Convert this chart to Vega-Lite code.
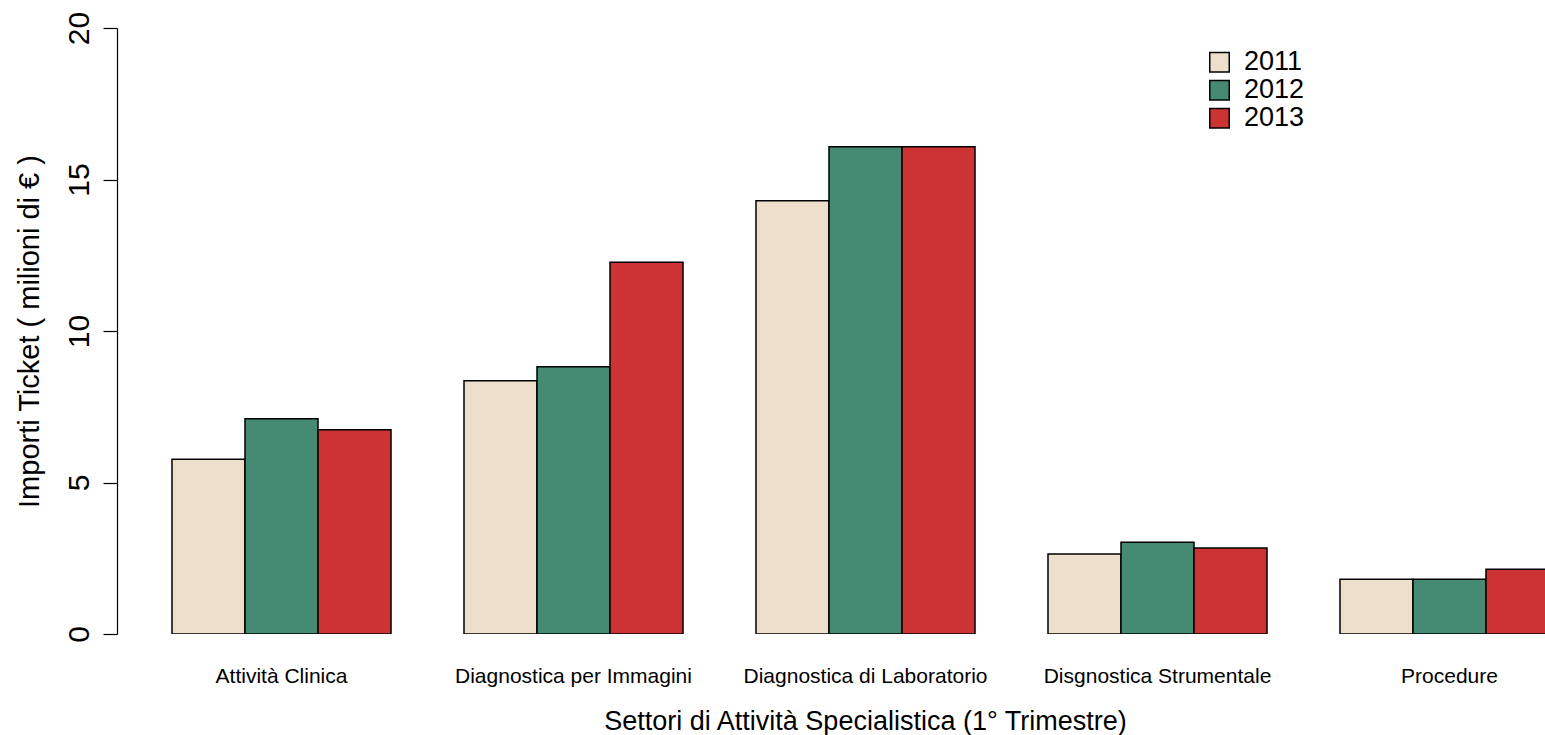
{
  "$schema": "https://vega.github.io/schema/vega-lite/v6.json",
  "width": 1428,
  "height": 606,
  "autosize": "none",
  "padding": {"left": 117, "top": 28, "right": 0, "bottom": 101},
  "background": "white",
  "config": {
    "view": {"stroke": null},
    "font": "Liberation Sans"
  },
  "data": {
    "values": [
      {"settore": "Attività Clinica", "anno": "2011", "importo": 5.77},
      {"settore": "Attività Clinica", "anno": "2012", "importo": 7.10},
      {"settore": "Attività Clinica", "anno": "2013", "importo": 6.74},
      {"settore": "Diagnostica per Immagini", "anno": "2011", "importo": 8.36},
      {"settore": "Diagnostica per Immagini", "anno": "2012", "importo": 8.82},
      {"settore": "Diagnostica per Immagini", "anno": "2013", "importo": 12.27},
      {"settore": "Diagnostica di Laboratorio", "anno": "2011", "importo": 14.30},
      {"settore": "Diagnostica di Laboratorio", "anno": "2012", "importo": 16.08},
      {"settore": "Diagnostica di Laboratorio", "anno": "2013", "importo": 16.08},
      {"settore": "Disgnostica Strumentale", "anno": "2011", "importo": 2.64},
      {"settore": "Disgnostica Strumentale", "anno": "2012", "importo": 3.03},
      {"settore": "Disgnostica Strumentale", "anno": "2013", "importo": 2.84},
      {"settore": "Procedure", "anno": "2011", "importo": 1.81},
      {"settore": "Procedure", "anno": "2012", "importo": 1.81},
      {"settore": "Procedure", "anno": "2013", "importo": 2.14}
    ]
  },
  "mark": {"type": "bar", "stroke": "black", "strokeWidth": 1.5, "clip": true, "cornerRadius": 0},
  "encoding": {
    "x": {
      "field": "settore",
      "type": "nominal",
      "sort": null,
      "scale": {"range": [0, 1497], "paddingInner": 0.25, "paddingOuter": 0.18836},
      "axis": {
        "title": "Settori di Attività Specialistica (1° Trimestre)",
        "domain": false,
        "ticks": false,
        "tickSize": 0,
        "labelAngle": 0,
        "labelFontSize": 21,
        "labelLimit": 0,
        "labelColor": "black",
        "labelBaseline": "alphabetic",
        "labelAlign": "center",
        "labelPadding": 48,
        "labelOverlap": false,
        "titleFontSize": 27,
        "titleFontWeight": "normal",
        "titleColor": "black",
        "titleX": 748,
        "titleY": 95,
        "titleAlign": "center",
        "titleBaseline": "alphabetic"
      }
    },
    "xOffset": {
      "field": "anno",
      "type": "nominal",
      "scale": {"paddingInner": 0, "paddingOuter": 0}
    },
    "y": {
      "field": "importo",
      "type": "quantitative",
      "scale": {"domain": [0, 20], "nice": false, "zero": true},
      "axis": {
        "title": "Importi Ticket ( milioni di € )",
        "values": [0, 5, 10, 15, 20],
        "grid": false,
        "domainColor": "black",
        "domainWidth": 1.2,
        "tickColor": "black",
        "tickWidth": 1.2,
        "tickSize": 14,
        "labelAngle": -90,
        "labelAlign": "center",
        "labelBaseline": "alphabetic",
        "labelPadding": 15,
        "labelFontSize": 30,
        "labelColor": "black",
        "titleFontSize": 29,
        "titleFontWeight": "normal",
        "titleColor": "black",
        "titleAngle": -90,
        "titleX": -88,
        "titleY": 303,
        "titleAlign": "center",
        "titleBaseline": "middle"
      }
    },
    "fill": {
      "field": "anno",
      "type": "nominal",
      "scale": {"domain": ["2011", "2012", "2013"], "range": ["#EEDFCC", "#458B74", "#CD3333"]},
      "legend": {
        "title": null,
        "orient": "none",
        "legendX": 1089,
        "legendY": 22,
        "padding": 0,
        "symbolType": "square",
        "symbolSize": 380,
        "symbolStrokeColor": "black",
        "symbolStrokeWidth": 1.5,
        "symbolOpacity": 1,
        "labelFontSize": 27,
        "labelColor": "black",
        "labelOffset": 11,
        "rowPadding": 0,
        "clipHeight": 24.5
      }
    }
  }
}
